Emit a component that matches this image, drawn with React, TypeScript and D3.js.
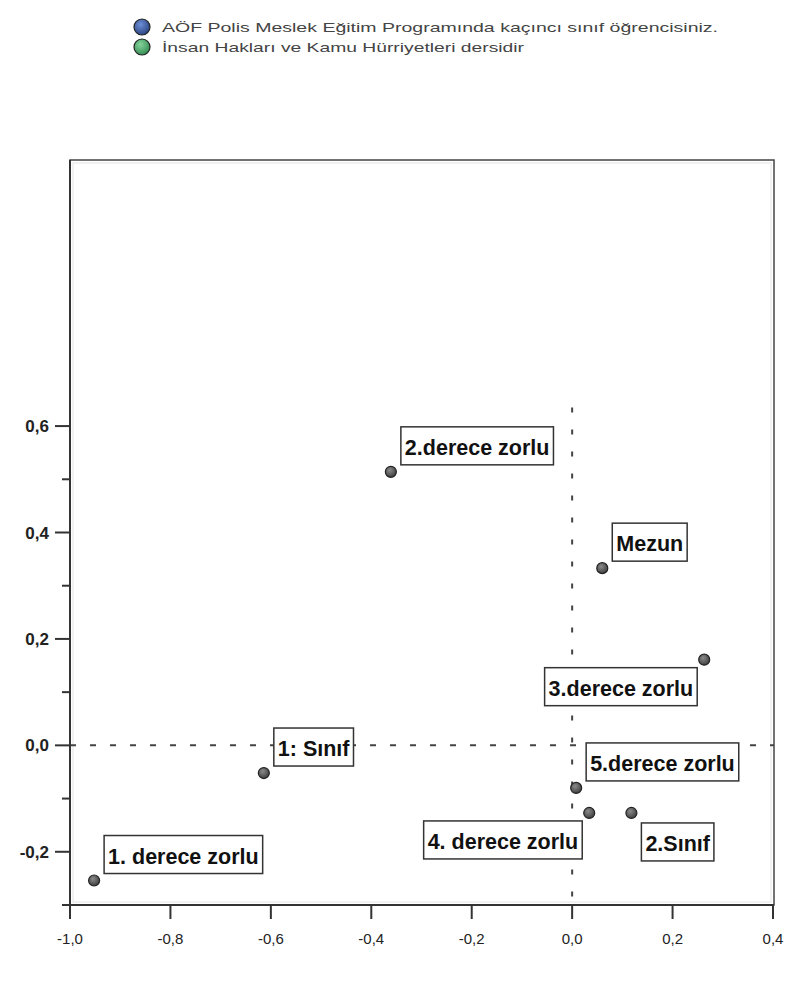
import React, { useMemo } from 'react';
import * as d3 from 'd3';

// ---- data ----
const pointLabels = [
  '2.derece zorlu',
  'Mezun',
  '3.derece zorlu',
  '1: Sınıf',
  '5.derece zorlu',
  '4. derece zorlu',
  '2.Sınıf',
  '1. derece zorlu',
];
const dim1 = [-0.361, 0.06, 0.263, -0.614, 0.008, 0.034, 0.118, -0.952];
const dim2 = [0.514, 0.333, 0.161, -0.052, -0.08, -0.127, -0.127, -0.254];
const labelPlacement = ['ne', 'ne', 'sw', 'ne', 'ne', 'sw', 'se', 'ne'];

const xTicks = [-1.0, -0.8, -0.6, -0.4, -0.2, 0.0, 0.2, 0.4];
const yTicks = [-0.2, 0.0, 0.2, 0.4, 0.6];
const yMinorTicks = [-0.3, -0.1, 0.1, 0.3, 0.5];

const legendLabels = [
  'AÖF Polis Meslek Eğitim Programında kaçıncı sınıf öğrencisiniz.',
  'İnsan Hakları ve Kamu Hürriyetleri dersidir',
];
const legendColors = [
  ['#6d8fd6', '#27407e'],
  ['#86d39c', '#2f8a4e'],
];

const W = 787;
const H = 981;
const LABEL_SIZE = 21.5;
const LABEL_FONT = `bold ${LABEL_SIZE}px 'Liberation Sans', Arial, sans-serif`;

const locale = d3.formatLocale({
  decimal: ',',
  thousands: '.',
  grouping: [3],
  currency: ['', ''],
  minus: '-',
});
const fmt = locale.format('.1f');

export default function App() {
  const x = d3.scaleLinear().domain([-1.0, 0.4]).range([70, 773]);
  const y = d3.scaleLinear().domain([-0.3, 1.1]).range([905, 160]);

  const widths = useMemo(() => {
    const c = document.createElement('canvas').getContext('2d');
    if (!c) return pointLabels.map((l) => l.length * 10);
    c.font = LABEL_FONT;
    return pointLabels.map((l) => c.measureText(l).width);
  }, []);

  const left = x(-1.0);
  const right = 774;
  const top = y(1.1);
  const bottom = y(-0.3);

  const boxH = 38;
  const padX = 4;

  return (
    <svg
      width={W}
      height={H}
      style={{ position: 'absolute', left: 0, top: 0, background: '#fff' }}
      fontFamily="'Liberation Sans', Arial, sans-serif"
    >
      <defs>
        {legendColors.map((c, i) => (
          <radialGradient key={i} id={`lg${i}`} cx="40%" cy="35%" r="70%">
            <stop offset="0%" stopColor={c[0]} />
            <stop offset="100%" stopColor={c[1]} />
          </radialGradient>
        ))}
        <radialGradient id="pt" cx="40%" cy="35%" r="70%">
          <stop offset="0%" stopColor="#8a8a8a" />
          <stop offset="100%" stopColor="#3a3a3a" />
        </radialGradient>
      </defs>
      <rect x={0} y={0} width={W} height={H} fill="#fff" />

      {/* legend */}
      {legendLabels.map((l, i) => (
        <g key={i} transform={`translate(0, ${27 + i * 20})`}>
          <circle cx={142} cy={0} r={8} fill={`url(#lg${i})`} stroke="#222" strokeWidth={1.2} />
          <text
            x={162}
            y={5}
            fontSize={13.5}
            fill="#444"
            textLength={i === 0 ? 556 : 362}
            lengthAdjust="spacingAndGlyphs"
          >
            {l}
          </text>
        </g>
      ))}

      {/* frame */}
      <rect x={left} y={top} width={right - left} height={bottom - top} fill="none" stroke="#444" strokeWidth={1.5} />
      <rect x={left + 3} y={top + 3} width={right - left - 6} height={bottom - top - 6} fill="none" stroke="#e4e4e4" strokeWidth={1} />

      {/* reference lines */}
      <line x1={left} x2={right} y1={y(0)} y2={y(0)} stroke="#444" strokeWidth={2} strokeDasharray="6,14" />
      <line x1={x(0)} x2={x(0)} y1={y(0.635)} y2={bottom} stroke="#444" strokeWidth={2} strokeDasharray="5,17" />

      {/* y axis */}
      <line x1={left} x2={left} y1={top} y2={bottom} stroke="#333" strokeWidth={2} />
      {yTicks.map((t) => (
        <g key={`y${t}`}>
          <line x1={left - 15} x2={left} y1={y(t)} y2={y(t)} stroke="#333" strokeWidth={2} />
          <text x={49} y={y(t) + 6} textAnchor="end" fontSize={17} fontWeight="bold" fill="#222">
            {fmt(t)}
          </text>
        </g>
      ))}
      {yMinorTicks.map((t) => (
        <line key={`ym${t}`} x1={left - 8} x2={left} y1={y(t)} y2={y(t)} stroke="#333" strokeWidth={2} />
      ))}

      {/* x axis */}
      <line x1={left} x2={right} y1={bottom} y2={bottom} stroke="#333" strokeWidth={2} />
      {xTicks.map((t) => (
        <g key={`x${t}`}>
          <line x1={x(t)} x2={x(t)} y1={bottom} y2={bottom + 14} stroke="#333" strokeWidth={2} />
          <text x={x(t)} y={944} textAnchor="middle" fontSize={15} fill="#222">
            {fmt(t)}
          </text>
        </g>
      ))}

      {/* labels */}
      {pointLabels.map((l, i) => {
        const px = x(dim1[i]);
        const py = y(dim2[i]);
        const bw = widths[i] + padX * 2;
        let bx = px + 10;
        let by = py - 7 - boxH;
        if (labelPlacement[i] === 'sw') {
          bx = px - 7 - bw;
          by = py + 8;
        } else if (labelPlacement[i] === 'se') {
          bx = px + 10;
          by = py + 10;
        }
        return (
          <g key={`lab${i}`}>
            <rect x={bx} y={by} width={bw} height={boxH} fill="#fff" stroke="#333" strokeWidth={1.5} />
            <text x={bx + padX} y={by + 28} fontSize={LABEL_SIZE} fontWeight="bold" fill="#111">
              {l}
            </text>
          </g>
        );
      })}

      {/* points */}
      {pointLabels.map((l, i) => (
        <circle key={`p${i}`} cx={x(dim1[i])} cy={y(dim2[i])} r={5.5} fill="url(#pt)" stroke="#222" strokeWidth={1.2} />
      ))}
    </svg>
  );
}
